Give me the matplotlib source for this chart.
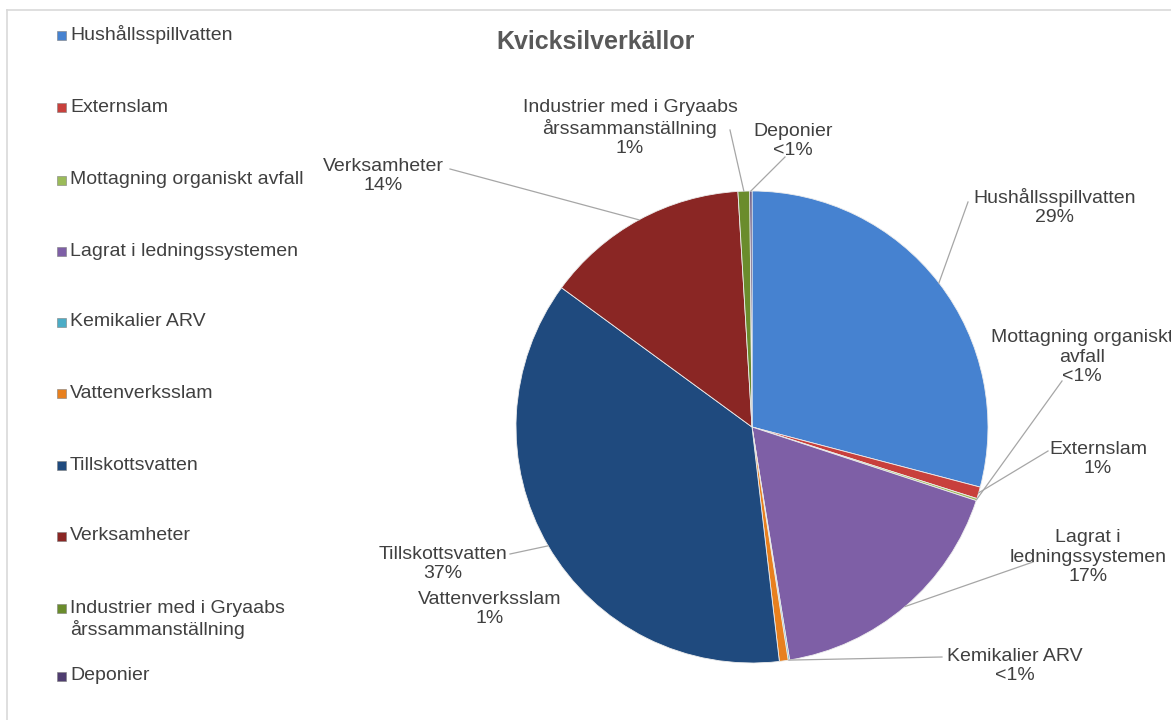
import numpy as np
import matplotlib
matplotlib.use("Agg")
import matplotlib.pyplot as plt
from matplotlib.patches import Rectangle

plt.rcParams['font.family'] = ['Liberation Sans', 'DejaVu Sans']

# data
kallor = ['Hushållsspillvatten', 'Externslam', 'Mottagning organiskt avfall',
          'Lagrat i ledningssystemen', 'Kemikalier ARV', 'Vattenverksslam',
          'Tillskottsvatten', 'Verksamheter',
          'Industrier med i Gryaabs årssammanställning', 'Deponier']
andel = [29.1, 0.8, 0.15, 17.4, 0.1, 0.6, 36.9, 14.0, 0.8, 0.15]
farger = ['#4682D0', '#C8403C', '#9BBB59', '#7E5FA6', '#4BACC6',
          '#E8801E', '#1F4A7E', '#8A2624', '#6A8C2C', '#4F3D70']

legend_text = ['Hushållsspillvatten', 'Externslam', 'Mottagning organiskt avfall',
               'Lagrat i ledningssystemen', 'Kemikalier ARV', 'Vattenverksslam',
               'Tillskottsvatten', 'Verksamheter',
               'Industrier med i Gryaabs\nårssammanställning', 'Deponier']
etiketter = ['Hushållsspillvatten', 'Externslam', 'Mottagning organiskt\navfall',
             'Lagrat i\nledningssystemen', 'Kemikalier ARV', 'Vattenverksslam',
             'Tillskottsvatten', 'Verksamheter',
             'Industrier med i Gryaabs\nårssammanställning', 'Deponier']

W, H = 1171, 720
fig = plt.figure(figsize=(W / 100, H / 100), dpi=100)
ax = fig.add_axes([0, 0, 1, 1])

def py(y):
    # pixel y (from top) -> data y
    return H - y

cx, cy, r = 752, py(427), 236
wedges, _ = ax.pie(andel, colors=farger, startangle=90, counterclock=False,
                   center=(cx, cy), radius=r,
                   wedgeprops=dict(edgecolor='#EDEDED', linewidth=0.6))
ax.set_xlim(0, W)
ax.set_ylim(0, H)
ax.set_aspect('equal')
ax.axis('off')

# ram
ax.plot([7, 7], [py(10), 0], color='#D9D9D9', lw=1.2)
ax.plot([7, W], [py(10), py(10)], color='#D9D9D9', lw=1.2)

# titel
ax.text(596, py(42), 'Kvicksilverkällor', ha='center', va='center',
        fontsize=18, fontweight='bold', color='#595959')

# legend
leg_y = [35, 107, 180, 251, 322, 393, 465, 536, 608, 676]
for i, txt in enumerate(legend_text):
    ax.add_patch(Rectangle((57, py(leg_y[i]) - 4.5), 9, 9, facecolor=farger[i],
                           edgecolor='#7F7F7F', lw=0.4))
    if '\n' in txt:
        ax.text(70, py(leg_y[i] - 8), txt, ha='left', va='top', fontsize=14,
                color='#404040', linespacing=1.2)
    else:
        ax.text(70, py(leg_y[i]), txt, ha='left', va='center', fontsize=14,
                color='#404040')

# dataetiketter
lab_pos = [(1055, 207), (1098, 459), (1082, 357), (1088, 557), (1015, 666),
           (490, 609), (443, 564), (383, 176), (630, 128), (793, 141)]
lead_from = [(968, 202), (1048, 451), (1062, 381), (1033, 562), (942, 657),
             None, (510, 554), (450, 169), (730, 130), (785, 157)]

for i, w in enumerate(wedges):
    v = andel[i]
    pct = '<1%' if v < 0.5 else '%d%%' % round(v)
    x, y = lab_pos[i]
    ax.text(x, py(y), etiketter[i] + '\n' + pct, ha='center', va='center',
            multialignment='center', fontsize=14, color='#404040',
            linespacing=1.2, clip_on=False)
    if lead_from[i] is not None:
        th = np.deg2rad((w.theta1 + w.theta2) / 2)
        ex, ey = cx + r * np.cos(th), cy + r * np.sin(th)
        lx, ly = lead_from[i]
        ax.plot([lx, ex], [py(ly), ey], color='#A6A6A6', lw=0.9)

fig.savefig('out.png', dpi=100)
